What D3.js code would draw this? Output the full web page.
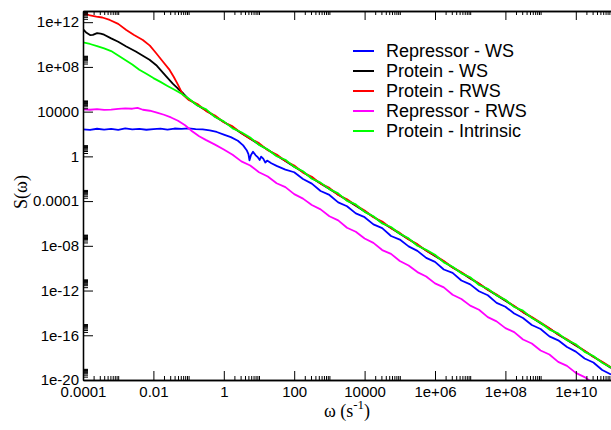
<!DOCTYPE html>
<html>
<head>
<meta charset="UTF-8">
<script src="https://d3js.org/d3.v7.min.js"></script>
<style>
  body { margin: 0; background: #fff; }
</style>
</head>
<body>
<svg width="611" height="430" font-family="'Liberation Sans', Arial, sans-serif"></svg>
<script>
// all values are log10 of omega (s^-1) and log10 of S(omega)
var xMajor = [-4, -2, 0, 2, 4, 6, 8, 10];
var xLabels = ["0.0001", "0.01", "1", "100", "10000", "1e+06", "1e+08", "1e+10"];
var yMajor = [-20, -16, -12, -8, -4, 0, 4, 8, 12];
var yLabels = ["1e-20", "1e-16", "1e-12", "1e-08", "0.0001", "1", "10000", "1e+08", "1e+12"];
var minorMult = [2, 3, 4, 5, 6, 7, 8, 9, 10];

var seriesNames = ["Repressor - WS", "Protein - WS", "Protein - RWS", "Repressor - RWS", "Protein - Intrinsic"];
var seriesColors = ["#0000ff", "#000000", "#ff0000", "#ff00ff", "#00ff00"];

// low-frequency part of each curve, [log w, log S]
var blueHead = [[-4.0,2.42],[-3.8,2.36],[-3.6,2.47],[-3.4,2.40],[-3.2,2.45],[-3.0,2.37],[-2.8,2.50],[-2.6,2.42],
  [-2.4,2.46],[-2.2,2.38],[-2.0,2.44],[-1.8,2.48],[-1.6,2.40],[-1.4,2.49],[-1.2,2.45],[-1.0,2.50],[-0.8,2.44],
  [-0.6,2.41],[-0.4,2.33],[-0.2,2.18],[0.0,1.95],[0.2,1.72],[0.4,1.40],[0.55,0.98],[0.65,0.55],[0.70,0.2],
  [0.73,-0.35],[0.77,0.1],[0.83,0.42],[0.9,0.12],[0.97,-0.1],[1.02,-0.32],[1.06,-0.02],[1.12,-0.2],[1.18,-0.55],
  [1.23,-0.38],[1.35,-0.62]];
var blackHead = [[-4.0,11.37],[-3.9,11.05],[-3.8,10.85],[-3.72,10.86],[-3.6,11.02],[-3.5,10.98],[-3.4,10.88],
  [-3.2,10.55],[-3.0,10.25],[-2.77,9.83],[-2.5,9.38],[-2.3,9.0],[-2.11,8.64],[-1.9,8.1],[-1.63,7.13],
  [-1.45,6.5],[-1.3,6.05],[-1.15,5.62]];
var redHead = [[-4.0,12.65],[-3.9,12.72],[-3.8,12.6],[-3.62,12.5],[-3.45,12.42],[-3.24,12.2],[-3.0,11.85],
  [-2.77,11.3],[-2.55,10.85],[-2.3,10.41],[-2.1,9.9],[-1.92,9.22],[-1.75,8.55],[-1.54,7.73],[-1.42,7.1],
  [-1.3,6.39],[-1.16,5.5]];
var magentaHead = [[-4.0,4.21],[-3.8,4.17],[-3.6,4.23],[-3.4,4.16],[-3.2,4.18],[-3.0,4.25],[-2.8,4.30],
  [-2.6,4.26],[-2.45,4.34],[-2.3,4.17],[-2.1,4.08],[-1.9,3.92],[-1.7,3.72],[-1.5,3.48],[-1.3,3.18],
  [-1.1,2.78],[-0.9,2.25],[-0.7,1.80],[-0.5,1.45],[-0.25,1.05],[0.0,0.62]];
var greenHead = [[-4.0,10.2],[-3.8,10.05],[-3.6,9.85],[-3.4,9.65],[-3.2,9.42],[-3.0,9.02],[-2.8,8.62],
  [-2.6,8.22],[-2.4,7.75],[-2.2,7.38],[-2.0,7.0],[-1.8,6.66],[-1.6,6.3],[-1.4,5.95],[-1.2,5.6]];

// high-frequency tails
var tailW = d3.range(-1.0, 11.01, 0.25);
var greenTail = [5.18,4.55,4.2,3.52,3.13,2.5,2.16,1.69,1.03,0.62,0.01,-0.3,-0.94,-1.33,-2.0,-2.35,-2.93,
  -3.31,-3.98,-4.3,-4.96,-5.36,-6.0,-6.32,-6.92,-7.33,-7.99,-8.35,-8.8,-9.48,-9.87,-10.46,-10.81,-11.5,
  -11.84,-12.43,-12.82,-13.47,-13.8,-14.45,-14.88,-15.49,-15.83,-16.44,-16.8,-17.48,-17.85,-18.46,-18.88];
var blackTail = [5.12,4.58,4.1,3.57,3.08,2.6,2.07,1.58,1.07,0.6,0.07,-0.42,-0.93,-1.4,-1.93,-2.42,-2.92,-3.4,
  -3.93,-4.42,-4.92,-5.4,-5.93,-6.41,-6.92,-7.4,-7.93,-8.41,-8.92,-9.4,-9.93,-10.41,-10.92,-11.4,-11.93,-12.41,
  -12.92,-13.4,-13.93,-14.42,-14.92,-15.4,-15.93,-16.42,-16.92,-17.4,-17.93,-18.42,-18.92];
var redTail = [5.05,4.68,4.05,3.66,3.05,2.68,2.08,1.58,1.18,0.55,0.17,-0.42,-0.82,-1.45,-1.83,-2.44,-2.82,
  -3.45,-3.84,-4.38,-4.85,-5.44,-5.82,-6.42,-6.84,-7.44,-7.85,-8.43,-8.86,-9.36,-9.93,-10.36,-10.88,-11.37,
  -11.92,-12.36,-12.87,-13.38,-13.92,-14.37,-14.85,-15.38,-15.93,-16.36,-16.87,-17.38,-17.92,-18.37,-18.86];
var blueTailW = d3.range(1.5, 11.01, 0.25);
var blueTail = [-0.85,-1.18,-1.42,-2.02,-2.44,-3.1,-3.45,-4.12,-4.46,-5.1,-5.44,-6.08,-6.42,-7.12,-7.44,-8.05,
  -8.45,-9.08,-9.44,-10.12,-10.42,-11.1,-11.45,-12.06,-12.42,-13.1,-13.45,-14.05,-14.45,-15.08,-15.44,-16.1,
  -16.45,-17.05,-17.46,-18.08,-18.44,-19.1,-19.5];
var magentaTailW = d3.range(0.25, 10.51, 0.25);
var magentaTail = [0.15,-0.45,-0.82,-1.42,-1.8,-2.4,-2.75,-3.38,-3.78,-4.35,-4.74,-5.36,-5.72,-6.38,-6.74,-7.35,
  -7.74,-8.38,-8.72,-9.36,-9.76,-10.35,-10.74,-11.36,-11.72,-12.38,-12.76,-13.35,-13.72,-14.38,-14.76,-15.36,
  -15.72,-16.38,-16.74,-17.36,-17.72,-18.38,-18.74,-19.36,-19.74,-20.3];

function join(head, tw, tv) {
  return head.concat(tw.map(function(w, i) { return [w, tv[i]]; }));
}
var series = [
  join(blueHead, blueTailW, blueTail),
  join(blackHead, tailW, blackTail),
  join(redHead, tailW, redTail),
  join(magentaHead, magentaTailW, magentaTail),
  join(greenHead, tailW, greenTail)
];

var plotL = 83, plotR = 611, plotT = 11, plotB = 380;
var x = d3.scaleLog().domain([1e-4, 1e11]).range([plotL, plotR]);
var y = d3.scaleLog().domain([1e-20, 1e13]).range([plotB, plotT]);

var svg = d3.select("svg");

svg.append("clipPath").attr("id", "plot")
  .append("rect").attr("x", plotL).attr("y", plotT).attr("width", plotR - plotL).attr("height", plotB - plotT);

var line = d3.line()
  .x(function(d) { return x(Math.pow(10, d[0])); })
  .y(function(d) { return y(Math.pow(10, d[1])); });

svg.append("g").attr("clip-path", "url(#plot)")
  .selectAll("path").data(series).enter().append("path")
  .attr("d", line)
  .attr("fill", "none")
  .attr("stroke", function(d, i) { return seriesColors[i]; })
  .attr("stroke-width", 1.8)
  .attr("stroke-linejoin", "round");

// minor tick positions
var xMinor = [], yMinor = [];
xMajor.forEach(function(e) { minorMult.forEach(function(m) { xMinor.push(m * Math.pow(10, e)); }); });
yMajor.forEach(function(e) { minorMult.forEach(function(m) { yMinor.push(m * Math.pow(10, e)); }); });
var xMajorV = xMajor.map(function(e) { return Math.pow(10, e); });
var yMajorV = yMajor.map(function(e) { return Math.pow(10, e); });

function styleAxis(g) {
  g.attr("font-family", null).attr("font-size", null);
  g.selectAll("line").attr("stroke", "#000").attr("stroke-width", 1);
  g.select(".domain").attr("stroke", "#000").attr("stroke-width", 1.3);
  g.selectAll("text").attr("fill", "#000").attr("font-size", 15);
}

// bottom
svg.append("g").attr("transform", "translate(0," + plotB + ")")
  .call(d3.axisBottom(x).tickValues(xMinor).tickSizeInner(-4).tickSizeOuter(0).tickFormat(""))
  .call(styleAxis);
svg.append("g").attr("transform", "translate(0," + plotB + ")")
  .call(d3.axisBottom(x).tickValues(xMajorV).tickSizeInner(-9).tickSizeOuter(0).tickPadding(6)
    .tickFormat(function(d, i) { return xLabels[i]; }))
  .call(styleAxis);
// top
svg.append("g").attr("transform", "translate(0," + plotT + ")")
  .call(d3.axisTop(x).tickValues(xMinor).tickSizeInner(-4).tickSizeOuter(0).tickFormat(""))
  .call(styleAxis);
svg.append("g").attr("transform", "translate(0," + plotT + ")")
  .call(d3.axisTop(x).tickValues(xMajorV).tickSizeInner(-9).tickSizeOuter(0).tickFormat(""))
  .call(styleAxis);
// left
svg.append("g").attr("transform", "translate(" + plotL + ",0)")
  .call(d3.axisLeft(y).tickValues(yMinor).tickSizeInner(-5).tickSizeOuter(0).tickFormat(""))
  .call(styleAxis);
svg.append("g").attr("transform", "translate(" + plotL + ",0)")
  .call(d3.axisLeft(y).tickValues(yMajorV).tickSizeInner(-10).tickSizeOuter(0).tickPadding(4)
    .tickFormat(function(d, i) { return yLabels[i]; }))
  .call(styleAxis);

// axis titles
svg.append("text")
  .attr("transform", "translate(27,192) rotate(-90)")
  .attr("text-anchor", "middle")
  .attr("font-family", "'Liberation Serif', 'Times New Roman', serif")
  .attr("font-size", 18)
  .text("S(\u03c9)");

var xt = svg.append("text")
  .attr("x", 347).attr("y", 417)
  .attr("text-anchor", "middle")
  .attr("font-family", "'Liberation Serif', 'Times New Roman', serif")
  .attr("font-size", 18);
xt.append("tspan").text("\u03c9 (s");
xt.append("tspan").attr("font-size", 13).attr("dy", -8).text("-1");
xt.append("tspan").attr("dy", 8).text(")");

// legend
var lg = svg.append("g");
seriesNames.forEach(function(name, i) {
  var ly = 51 + i * 20;
  lg.append("line").attr("x1", 353).attr("x2", 374).attr("y1", ly).attr("y2", ly)
    .attr("stroke", seriesColors[i]).attr("stroke-width", 2);
  lg.append("text").attr("x", 386).attr("y", ly).attr("dy", "0.35em")
    .attr("font-size", 18).attr("fill", "#000").text(name);
});
</script>
</body>
</html>
